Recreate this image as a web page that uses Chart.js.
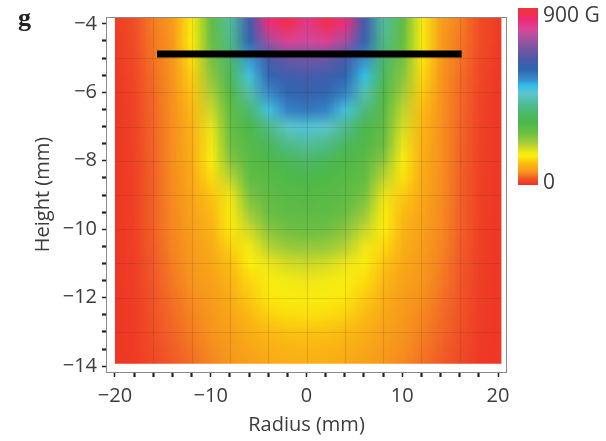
<!DOCTYPE html>
<html><head><meta charset="utf-8">
<script src="https://cdn.jsdelivr.net/npm/chart.js@4/dist/chart.umd.min.js"></script>
<style>html,body{margin:0;padding:0;background:#fff}#wrap{width:606px;height:441px;position:relative}</style>
</head><body><div id="wrap"><canvas id="c" width="606" height="441"></canvas></div>
<script>
// ---- data ----
const radiusMM = [-20,-18,-16,-14,-12,-10,-8,-6,-4,-2,0,2,4,6,8,10,12,14,16,18,20];
const heightMM = [-4,-4.5,-5,-5.5,-6,-6.5,-7,-7.5,-8,-8.5,-9,-9.5,-10,-10.5,-11,-11.5,-12,-12.5,-13,-13.5,-14];
// field strength in gauss, one row per height, one column per radius
const fieldG = [
 [12,25,55,75,150,280,420,620,830,870,810,870,830,620,420,285,155,78,55,25,10],
 [10,25,52,72,145,270,400,590,740,800,780,800,740,600,400,275,150,75,52,25,10],
 [8,22,50,70,135,255,370,530,630,680,690,680,630,540,375,260,140,72,50,22,8],
 [6,20,47,68,124,235,345,490,590,620,625,620,590,500,350,240,130,69,47,20,6],
 [5,18,45,66,115,212,305,430,540,590,600,590,550,440,310,220,120,67,45,18,5],
 [5,17,44,65,106,192,288,375,490,550,565,550,490,385,292,200,110,66,44,17,5],
 [5,16,43,64,100,172,272,320,400,460,480,460,410,330,280,185,104,65,43,16,5],
 [5,16,42,64,96,160,262,300,345,400,420,400,350,305,268,170,98,65,42,16,5],
 [5,15,41,64,94,148,240,290,312,340,360,340,312,290,235,150,95,65,41,15,5],
 [5,14,40,63,90,130,200,280,295,310,320,310,295,280,200,135,92,64,40,14,5],
 [5,14,40,62,86,115,165,252,285,295,300,295,285,255,170,120,88,63,40,14,5],
 [5,14,40,61,82,105,150,220,270,285,290,285,270,225,152,108,84,62,40,14,5],
 [5,13,40,60,78,98,140,190,240,260,265,260,240,195,145,100,80,61,40,13,5],
 [5,13,38,58,75,92,125,160,205,225,230,225,205,165,130,95,77,59,38,13,5],
 [5,12,36,55,72,86,110,145,168,185,190,185,168,150,115,88,74,56,36,12,5],
 [5,12,34,52,68,80,100,128,150,160,165,160,150,132,105,82,70,53,34,12,5],
 [5,11,32,48,63,75,92,118,140,150,152,150,140,120,95,76,65,49,32,11,5],
 [5,10,30,45,58,70,85,105,125,132,135,132,125,108,87,72,60,46,30,10,5],
 [5,10,27,42,54,66,78,94,106,112,114,112,106,96,80,68,56,43,27,10,5],
 [5,9,24,38,50,62,72,84,95,100,102,100,95,86,74,64,52,39,24,9,5],
 [5,8,20,34,46,58,68,78,88,93,95,93,88,80,70,60,48,35,20,8,5]
];
// probe path (black bar)
const barRadius = [-15.6, 16.2];
const barHeight = [-4.88, -4.88];
// colour bar
const cbarValues = [0, 900];
const cbarLabels = ['0', '900 G'];
// measurement cell boundaries
const cellEdgesX = [-16,-12,-8,-4,0,4,8,12,16];
const cellEdgesY = [-5,-6,-7,-8,-9,-10,-11,-12,-13];
// axis label ticks
const xLabelTicks = [-20,-10,0,10,20];
const yLabelTicks = [-14,-12,-10,-8,-6,-4];

// ---- colour map (styling) ----
const cmapStops = [0,36,66,110,145,168,214,264,315,366,417,468,508,534,585,636,686,737,788,839,864,900];
const cmapColors = ['#ee3124','#f15a29','#f7941d','#fbbd12','#fcee0c','#eee61a','#a6cd39','#6cbf44','#4cb848','#4cb86a','#50bc9a','#5ec5d0','#2fbde8','#3a8fcf','#2e67b1','#4a5aaa','#7056a5','#a052a0','#d6489a','#ee2a7b','#ef2f55','#ee3536'];
function hex(h){return [parseInt(h.slice(1,3),16),parseInt(h.slice(3,5),16),parseInt(h.slice(5,7),16)];}
function cmap(v){
  if (v <= cmapStops[0]) return hex(cmapColors[0]);
  for (let i=1;i<cmapStops.length;i++){
    if (v <= cmapStops[i]){
      const t=(v-cmapStops[i-1])/(cmapStops[i]-cmapStops[i-1]);
      const a=hex(cmapColors[i-1]), b=hex(cmapColors[i]);
      return [0,1,2].map(k=>Math.round(a[k]+(b[k]-a[k])*t));
    }
  }
  return hex(cmapColors[cmapColors.length-1]);
}
const minus = v => (v<0?'\u2212':'') + Math.abs(v);
const isLabel = (v, list) => list.some(t => Math.abs(t - v) < 1e-6);

const heatmapPlugin = {
  id: 'heatmap',
  beforeDatasetsDraw(chart){
    const {ctx, scales:{x, y}} = chart;
    const nC = radiusMM.length, nR = heightMM.length;
    const off = document.createElement('canvas'); off.width = nC; off.height = nR;
    const octx = off.getContext('2d');
    const img = octx.createImageData(nC, nR);
    for (let r=0;r<nR;r++) for (let c=0;c<nC;c++){
      const col = cmap(fieldG[r][c]); const i=(r*nC+c)*4;
      img.data[i]=col[0]; img.data[i+1]=col[1]; img.data[i+2]=col[2]; img.data[i+3]=255;
    }
    octx.putImageData(img,0,0);
    const dx = radiusMM[1]-radiusMM[0], dy = heightMM[0]-heightMM[1];
    const left = x.getPixelForValue(radiusMM[0]-dx/2), right = x.getPixelForValue(radiusMM[nC-1]+dx/2);
    const top = y.getPixelForValue(heightMM[0]+dy/2), bottom = y.getPixelForValue(heightMM[nR-1]-dy/2);
    const cl = x.getPixelForValue(-20), cr = x.getPixelForValue(20.35);
    const ct = y.getPixelForValue(-3.83), cb = y.getPixelForValue(-13.93);
    ctx.save();
    ctx.beginPath(); ctx.rect(cl, ct, cr-cl, cb-ct); ctx.clip();
    ctx.imageSmoothingEnabled = true; ctx.imageSmoothingQuality = 'low';
    ctx.drawImage(off, left, top, right-left, bottom-top);
    ctx.strokeStyle = 'rgba(70,40,20,0.14)'; ctx.lineWidth = 1.2;
    cellEdgesX.forEach(v=>{const p=Math.round(x.getPixelForValue(v))+0.5; ctx.beginPath(); ctx.moveTo(p,ct); ctx.lineTo(p,cb); ctx.stroke();});
    cellEdgesY.forEach(v=>{const p=Math.round(y.getPixelForValue(v))+0.5; ctx.beginPath(); ctx.moveTo(cl,p); ctx.lineTo(cr,p); ctx.stroke();});
    ctx.restore();
  },
  afterDraw(chart){
    const {ctx, chartArea:a} = chart;
    ctx.save();
    ctx.strokeStyle = '#8a8a8a'; ctx.lineWidth = 1;
    ctx.strokeRect(Math.round(a.left)-0.5, Math.round(a.top)+0.5, Math.round(a.right-a.left)+1, Math.round(a.bottom-a.top));
    // colour bar
    const bx=518, bw=20, btop=8, bbot=185;
    const g = ctx.createLinearGradient(0,bbot,0,btop);
    cmapStops.forEach((s,i)=>g.addColorStop((s-cbarValues[0])/(cbarValues[1]-cbarValues[0]), cmapColors[i]));
    ctx.fillStyle = g; ctx.fillRect(bx,btop,bw,bbot-btop);
    ctx.fillStyle = '#3c3c3c'; ctx.font = "21px 'Open Sans'"; ctx.textAlign='left'; ctx.textBaseline='alphabetic';
    ctx.fillText(cbarLabels[1], 543, 22);
    ctx.fillText(cbarLabels[0], 543, 189);
    // panel letter
    ctx.fillStyle = '#222'; ctx.font = "bold 26px 'Liberation Serif'";
    ctx.fillText('g', 18, 26);
    ctx.restore();
  }
};

Chart.defaults.font.family = "'Open Sans', sans-serif";
Chart.defaults.font.size = 20;
Chart.defaults.color = '#3c3c3c';

new Chart(document.getElementById('c'), {
  type: 'scatter',
  data: { datasets: [{
    data: barRadius.map((v,i)=>({x:v, y:barHeight[i]})),
    showLine: true, borderColor: '#000', borderWidth: 7, pointRadius: 0, borderCapStyle: 'butt'
  }]},
  options: {
    responsive: false, animation: false, devicePixelRatio: 1,
    layout: { padding: { top: 14, right: 100, left: 0, bottom: 0 } },
    plugins: { legend: { display: false }, tooltip: { enabled: false } },
    scales: {
      x: {
        type: 'linear', min: -20.83, max: 20.83,
        border: { display: false },
        grid: { drawOnChartArea: false, drawTicks: true, tickLength: 5, tickColor: '#222',
                tickWidth: c => isLabel(c.tick.value, xLabelTicks) ? 1.5 : 2.2 },
        ticks: { stepSize: 2, includeBounds: false, autoSkip: false, maxRotation: 0, padding: 7,
                 callback: v => isLabel(v, xLabelTicks) ? minus(v) : '' },
        title: { display: true, text: 'Radius (mm)', padding: { top: 0, bottom: 4 } },
        afterFit: s => { s.height = 69; }
      },
      y: {
        type: 'linear', min: -14.17, max: -3.8,
        border: { display: false },
        grid: { drawOnChartArea: false, drawTicks: true, tickLength: 5, tickColor: '#222',
                tickWidth: c => isLabel(c.tick.value, yLabelTicks) ? 1.5 : 2.2 },
        ticks: { stepSize: 0.5, includeBounds: false, autoSkip: false, padding: 5,
                 callback: v => isLabel(v, yLabelTicks) ? minus(v) : '' },
        title: { display: true, text: 'Height (mm)', padding: { top: 31, bottom: 0 } },
        afterFit: s => { s.width = 107; }
      }
    }
  },
  plugins: [heatmapPlugin]
});
</script></body></html>
